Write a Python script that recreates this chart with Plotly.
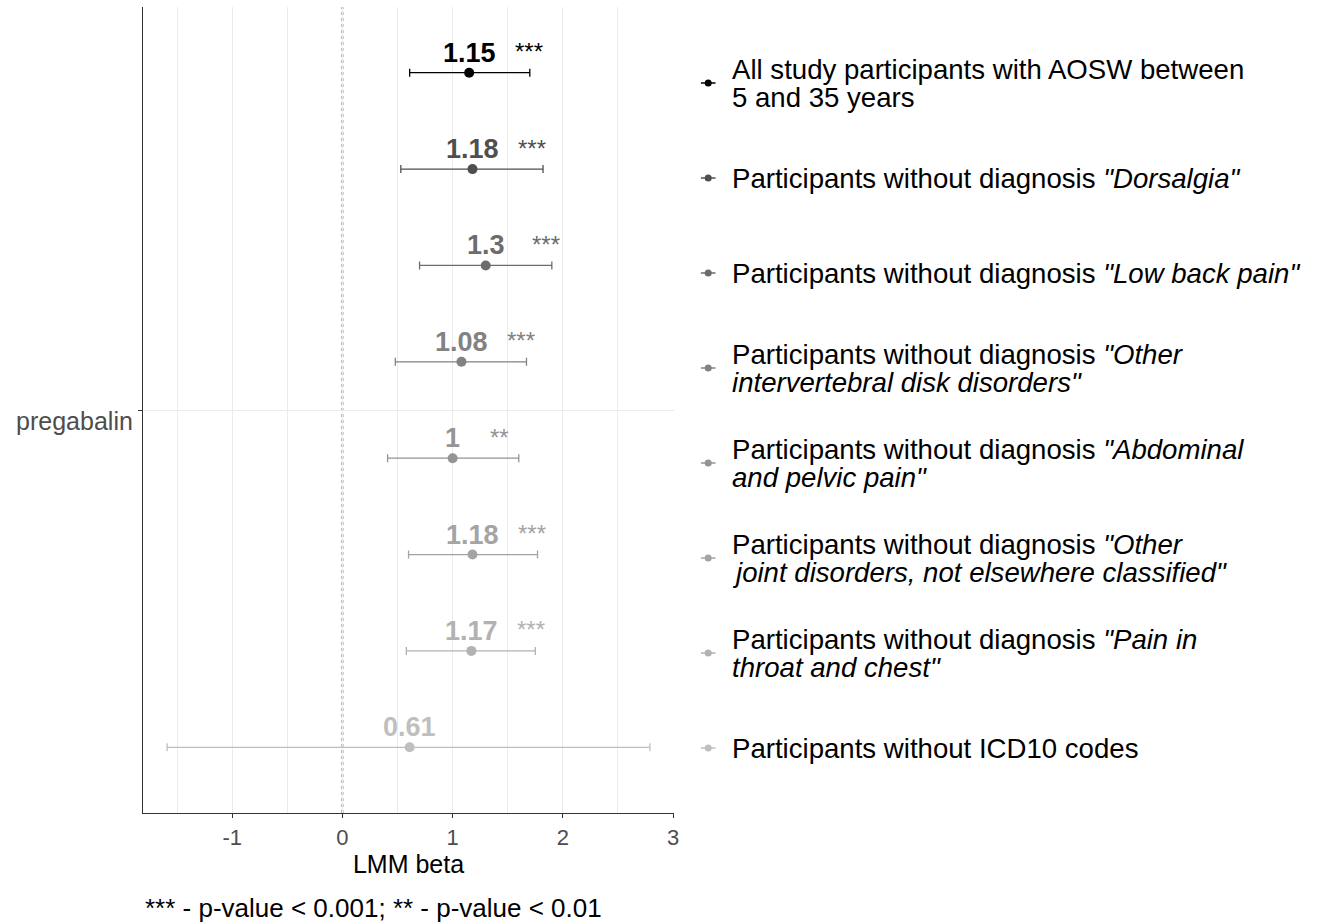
import plotly.graph_objects as go

# ---------------- data ----------------
groups = [
    ["All study participants with AOSW between", "5 and 35 years"],
    ["Participants without diagnosis <i>\"Dorsalgia\"</i>"],
    ["Participants without diagnosis <i>\"Low back pain\"</i>"],
    ["Participants without diagnosis <i>\"Other</i>", "<i>intervertebral disk disorders\"</i>"],
    ["Participants without diagnosis <i>\"Abdominal</i>", "<i>and pelvic pain\"</i>"],
    ["Participants without diagnosis <i>\"Other</i>", "<i>joint disorders, not elsewhere classified\"</i>"],
    ["Participants without diagnosis <i>\"Pain in</i>", "<i>throat and chest\"</i>"],
    ["Participants without ICD10 codes"],
]
beta = [1.15, 1.18, 1.30, 1.08, 1.00, 1.18, 1.17, 0.61]
ci_low = [0.61, 0.53, 0.70, 0.48, 0.41, 0.60, 0.58, -1.59]
ci_high = [1.70, 1.82, 1.90, 1.67, 1.60, 1.77, 1.75, 2.79]
stars = ["***", "***", "***", "***", "**", "***", "***", ""]
beta_labels = ["1.15", "1.18", "1.3", "1.08", "1", "1.18", "1.17", "0.61"]
drug = "pregabalin"
x_ticks = [-1, 0, 1, 2, 3]
colors = ["#000000", "#4f4f4f", "#6c6c6c", "#828282", "#949494", "#a4a4a4", "#b2b2b2", "#bfbfbf"]

FONT = "Liberation Sans, Arial, sans-serif"
n = len(beta)
ypos = [n - i for i in range(n)]  # top row = n

fig = go.Figure()

for i in range(n):
    fig.add_trace(go.Scatter(
        x=[beta[i]], y=[ypos[i]], mode="markers",
        marker=dict(color=colors[i], size=10),
        error_x=dict(type="data", symmetric=False,
                     array=[ci_high[i] - beta[i]], arrayminus=[beta[i] - ci_low[i]],
                     color=colors[i], thickness=1.3, width=4),
        showlegend=False, xaxis="x", yaxis="y", hoverinfo="skip",
    ))
    # legend glyph
    fig.add_trace(go.Scatter(
        x=[0], y=[ypos[i]], mode="markers",
        marker=dict(color=colors[i], size=7),
        error_x=dict(type="constant", value=1, color=colors[i], thickness=1.3, width=0),
        showlegend=False, xaxis="x2", yaxis="y2", hoverinfo="skip",
    ))
    fig.add_annotation(x=beta[i], y=ypos[i], xref="x", yref="y", text=f"<b>{beta_labels[i]}</b>",
                       showarrow=False, yshift=20, xanchor="center", yanchor="middle",
                       font=dict(family=FONT, size=27, color=colors[i]))
    if stars[i]:
        fig.add_annotation(x=beta[i], y=ypos[i], xref="x", yref="y", text=stars[i],
                           showarrow=False, yshift=21, xshift=44 if stars[i] == "***" else 35,
                           xanchor="left", yanchor="middle",
                           font=dict(family=FONT, size=24, color=colors[i]))
    lines = groups[i]
    k = len(lines)
    for j, line in enumerate(lines):
        fig.add_annotation(x=(731 - 143) / 1168, y=ypos[i], xref="paper", yref="y2", text=line,
                           showarrow=False, xanchor="left", yanchor="middle", align="left",
                           yshift=((k - 1) / 2 - j) * 28,
                           font=dict(family=FONT, size=27.6, color="#000000"))

fig.add_shape(type="line", x0=0, x1=0, y0=0, y1=1, xref="x", yref="paper",
              line=dict(color="#8c8c8c", width=2, dash="dot"), layer="below")

fig.add_annotation(x=0, y=(813 - 908) / 806, xref="paper", yref="paper",
                   text="*** - p-value < 0.001; ** - p-value < 0.01", showarrow=False,
                   xanchor="left", yanchor="middle", font=dict(family=FONT, size=26, color="#000000"))

fig.update_layout(
    width=1321, height=923,
    margin=dict(l=143, r=10, t=7, b=110),
    paper_bgcolor="white", plot_bgcolor="white",
    font=dict(family=FONT),
    xaxis=dict(domain=[0, 532 / 1168], range=[-1.809, 3.009],
               tickvals=x_ticks, ticktext=[str(t) for t in x_ticks],
               ticks="outside", ticklen=4, tickcolor="#333333",
               tickfont=dict(size=22, color="#4d4d4d"),
               showline=True, linecolor="#333333", linewidth=1.3,
               showgrid=True, gridcolor="#ebebeb", gridwidth=1, zeroline=False,
               minor=dict(dtick=0.5, showgrid=True, gridcolor="#ebebeb", gridwidth=1),
               title=dict(text="LMM beta", font=dict(size=25, color="#000000"), standoff=6)),
    yaxis=dict(range=[0.318, 8.682], tickvals=[(n + 1) / 2], ticktext=[drug],
               ticks="outside", ticklen=4, tickcolor="#333333",
               tickfont=dict(size=25, color="#4d4d4d"), ticklabelshift=11,
               showline=True, linecolor="#333333", linewidth=1.3,
               showgrid=True, gridcolor="#ebebeb", gridwidth=1, zeroline=False),
    xaxis2=dict(domain=[(701.7 - 143) / 1168, (716.7 - 143) / 1168], range=[-1, 1],
                visible=False, anchor="y2"),
    yaxis2=dict(domain=[0, 1], range=[0.316, 8.8], visible=False, anchor="x2"),
)

fig.write_html("out.html", config={"displayModeBar": False},
               post_script="document.body.style.margin='0px';")
